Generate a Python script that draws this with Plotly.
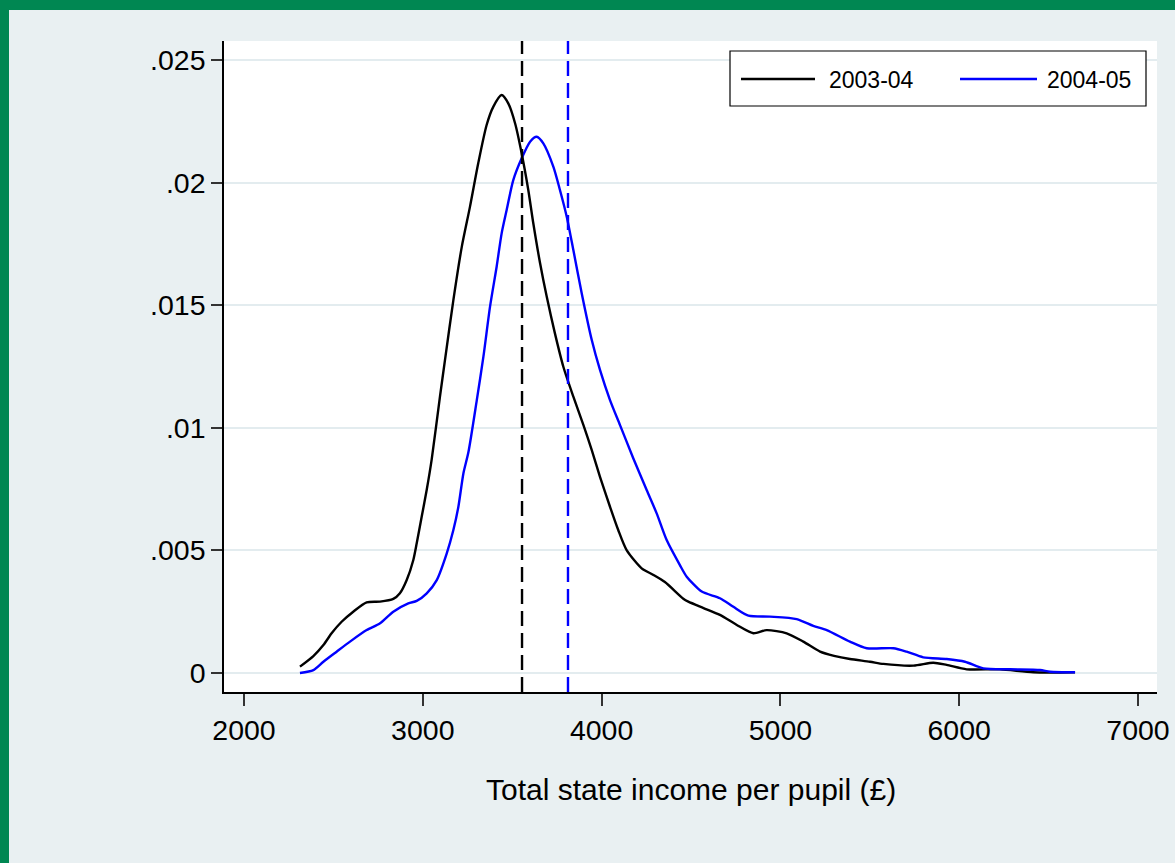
import plotly.graph_objects as go

# Kernel density of total state income per pupil, two school years
income_0304 = [2313, 2388, 2444, 2490, 2546, 2611, 2686, 2761, 2835, 2872, 2910, 2947, 2966, 2994,
               3022, 3050, 3096, 3124, 3171, 3218, 3264, 3310, 3357, 3394, 3441, 3478, 3516, 3553,
               3590, 3618, 3656, 3693, 3739, 3786, 3842, 3898, 3945, 3991, 4047, 4093, 4140, 4224,
               4290, 4354, 4457, 4485, 4570, 4662, 4756, 4849, 4923, 5035, 5128, 5222, 5300, 5389,
               5501, 5576, 5744, 5855, 5930, 6042, 6228, 6415, 6648]
density_0304 = [0.00026, 0.00069, 0.00114, 0.00162, 0.00209, 0.0025, 0.00288, 0.00291, 0.00302,
                0.00325, 0.00379, 0.00461, 0.00529, 0.00638, 0.00747, 0.00872, 0.01127, 0.01276,
                0.01521, 0.01738, 0.01902, 0.02079, 0.02235, 0.02309, 0.02357, 0.02323, 0.02242,
                0.02119, 0.0197, 0.01834, 0.01671, 0.01535, 0.01385, 0.01249, 0.01127, 0.01012,
                0.00909, 0.008, 0.00678, 0.00583, 0.00501, 0.00427, 0.004, 0.00371, 0.00303,
                0.00291, 0.00265, 0.00237, 0.00196, 0.00162, 0.00175, 0.00162, 0.00128, 0.00087,
                0.0007, 0.00057, 0.00046, 0.00037, 0.0003, 0.00042, 0.00033, 0.00015, 0.00015,
                0.00003, 0.00003]

income_0405 = [2313, 2388, 2444, 2518, 2593, 2686, 2761, 2835, 2919, 2966, 3022, 3078, 3134, 3171,
               3199, 3227, 3255, 3302, 3339, 3376, 3413, 3441, 3469, 3506, 3553, 3600, 3637, 3674,
               3730, 3767, 3805, 3842, 3889, 3945, 3991, 4047, 4103, 4177, 4252, 4308, 4364, 4438,
               4476, 4560, 4662, 4737, 4821, 4942, 5091, 5184, 5259, 5389, 5483, 5632, 5706, 5799,
               5930, 6032, 6135, 6284, 6452, 6508, 6648]
density_0405 = [0.0, 0.00012, 0.00046, 0.00087, 0.00128, 0.00175, 0.00203, 0.0025, 0.00284,
                0.00294, 0.00325, 0.00379, 0.00488, 0.00583, 0.00678, 0.00814, 0.009, 0.01113,
                0.0129, 0.01494, 0.01657, 0.01793, 0.01888, 0.0201, 0.02099, 0.02167, 0.02187,
                0.0216, 0.02065, 0.0197, 0.01861, 0.01725, 0.01548, 0.01358, 0.01236, 0.01113,
                0.01011, 0.00876, 0.00746, 0.00651, 0.00542, 0.0044, 0.00393, 0.00332, 0.00305,
                0.0027, 0.00234, 0.0023, 0.0022, 0.00192, 0.00175, 0.00128, 0.00101, 0.00101,
                0.00087, 0.00064, 0.00057, 0.00046, 0.00019, 0.00015, 0.00012, 0.00005, 0.00003]

# Mean income per pupil in each year (dashed reference lines)
mean_0304 = 3555
mean_0405 = 3812

series_names = ["2003-04", "2004-05"]
x_ticks = [2000, 3000, 4000, 5000, 6000, 7000]
y_ticks = [0, 0.005, 0.01, 0.015, 0.02, 0.025]
y_tick_text = ["0", ".005", ".01", ".015", ".02", ".025"]

# Figure geometry (pixels)
W, H = 1175, 863
PL, PR, PT, PB = 224, 1157, 41, 692
BG = "#e9f0f2"
GRID = "#e3ecef"
GREEN = "#008752"
FONT = "Liberation Sans, Arial, sans-serif"


def px(x):
    return (x - PL) / (PR - PL)


def py(y):
    return (PB - y) / (PB - PT)


fig = go.Figure()
fig.add_trace(go.Scatter(x=income_0304, y=density_0304, mode="lines", name=series_names[0],
                         line=dict(color="black", width=2.4, shape="spline", smoothing=0.7)))
fig.add_trace(go.Scatter(x=income_0405, y=density_0405, mode="lines", name=series_names[1],
                         line=dict(color="#0000ff", width=2.4, shape="spline", smoothing=0.7)))

shapes = []
for m, c in [(mean_0304, "black"), (mean_0405, "#0000ff")]:
    shapes.append(dict(type="line", xref="x", yref="paper", x0=m, x1=m, y0=0, y1=1,
                       line=dict(color=c, width=2.4, dash="15px,7px"), layer="above"))

# Green frame along the left and top edges
shapes.append(dict(type="rect", xref="paper", yref="paper", x0=px(0), x1=px(9), y0=py(H), y1=py(0),
                   fillcolor=GREEN, line=dict(width=0), layer="above"))
shapes.append(dict(type="rect", xref="paper", yref="paper", x0=px(0), x1=px(W), y0=py(10), y1=py(0),
                   fillcolor=GREEN, line=dict(width=0), layer="above"))

# Legend box
shapes.append(dict(type="rect", xref="paper", yref="paper", x0=px(730), x1=px(1146), y0=py(106), y1=py(51),
                   fillcolor="white", line=dict(color="black", width=1.2), layer="above"))
shapes.append(dict(type="line", xref="paper", yref="paper", x0=px(741), x1=px(815), y0=py(79), y1=py(79),
                   line=dict(color="black", width=2.4), layer="above"))
shapes.append(dict(type="line", xref="paper", yref="paper", x0=px(960), x1=px(1037), y0=py(79), y1=py(79),
                   line=dict(color="#0000ff", width=2.4), layer="above"))

annotations = [
    dict(text=series_names[0], xref="paper", yref="paper", x=px(827), y=py(80), xanchor="left",
         yanchor="middle", showarrow=False, font=dict(size=23, color="black", family=FONT)),
    dict(text=series_names[1], xref="paper", yref="paper", x=px(1045), y=py(80), xanchor="left",
         yanchor="middle", showarrow=False, font=dict(size=23, color="black", family=FONT)),
    dict(text="Total state income per pupil (£)", xref="paper", yref="paper", x=0.5, y=py(789),
         xanchor="center", yanchor="middle", showarrow=False,
         font=dict(size=30, color="black", family=FONT)),
]

x_lo = 2000 + (PL - 244) / 178.8 * 1000
x_hi = 2000 + (PR - 244) / 178.8 * 1000
y_lo = -(PB - 673) / 122.6 * 0.005
y_hi = 0.025 + (60 - PT) / 122.6 * 0.005

fig.update_layout(
    width=W, height=H,
    margin=dict(l=PL, r=W - PR, t=PT, b=H - PB, autoexpand=False),
    paper_bgcolor=BG, plot_bgcolor="white",
    showlegend=False,
    font=dict(family=FONT, size=28, color="black"),
    shapes=shapes, annotations=annotations,
    xaxis=dict(range=[x_lo, x_hi], tickvals=x_ticks, ticks="outside", ticklen=12, tickwidth=1.5,
               tickcolor="#333333", showline=True, linecolor="black", linewidth=1.5,
               showgrid=False, zeroline=False, tickfont=dict(size=28.5)),
    yaxis=dict(range=[y_lo, y_hi], tickvals=y_ticks, ticktext=y_tick_text, ticks="outside",
               ticklen=11, tickwidth=1.5, tickcolor="#333333", showline=True, linecolor="black",
               linewidth=1.5, showgrid=True, gridcolor=GRID, gridwidth=2, zeroline=False,
               tickfont=dict(size=28.5)),
)

fig.write_html("out.html")
